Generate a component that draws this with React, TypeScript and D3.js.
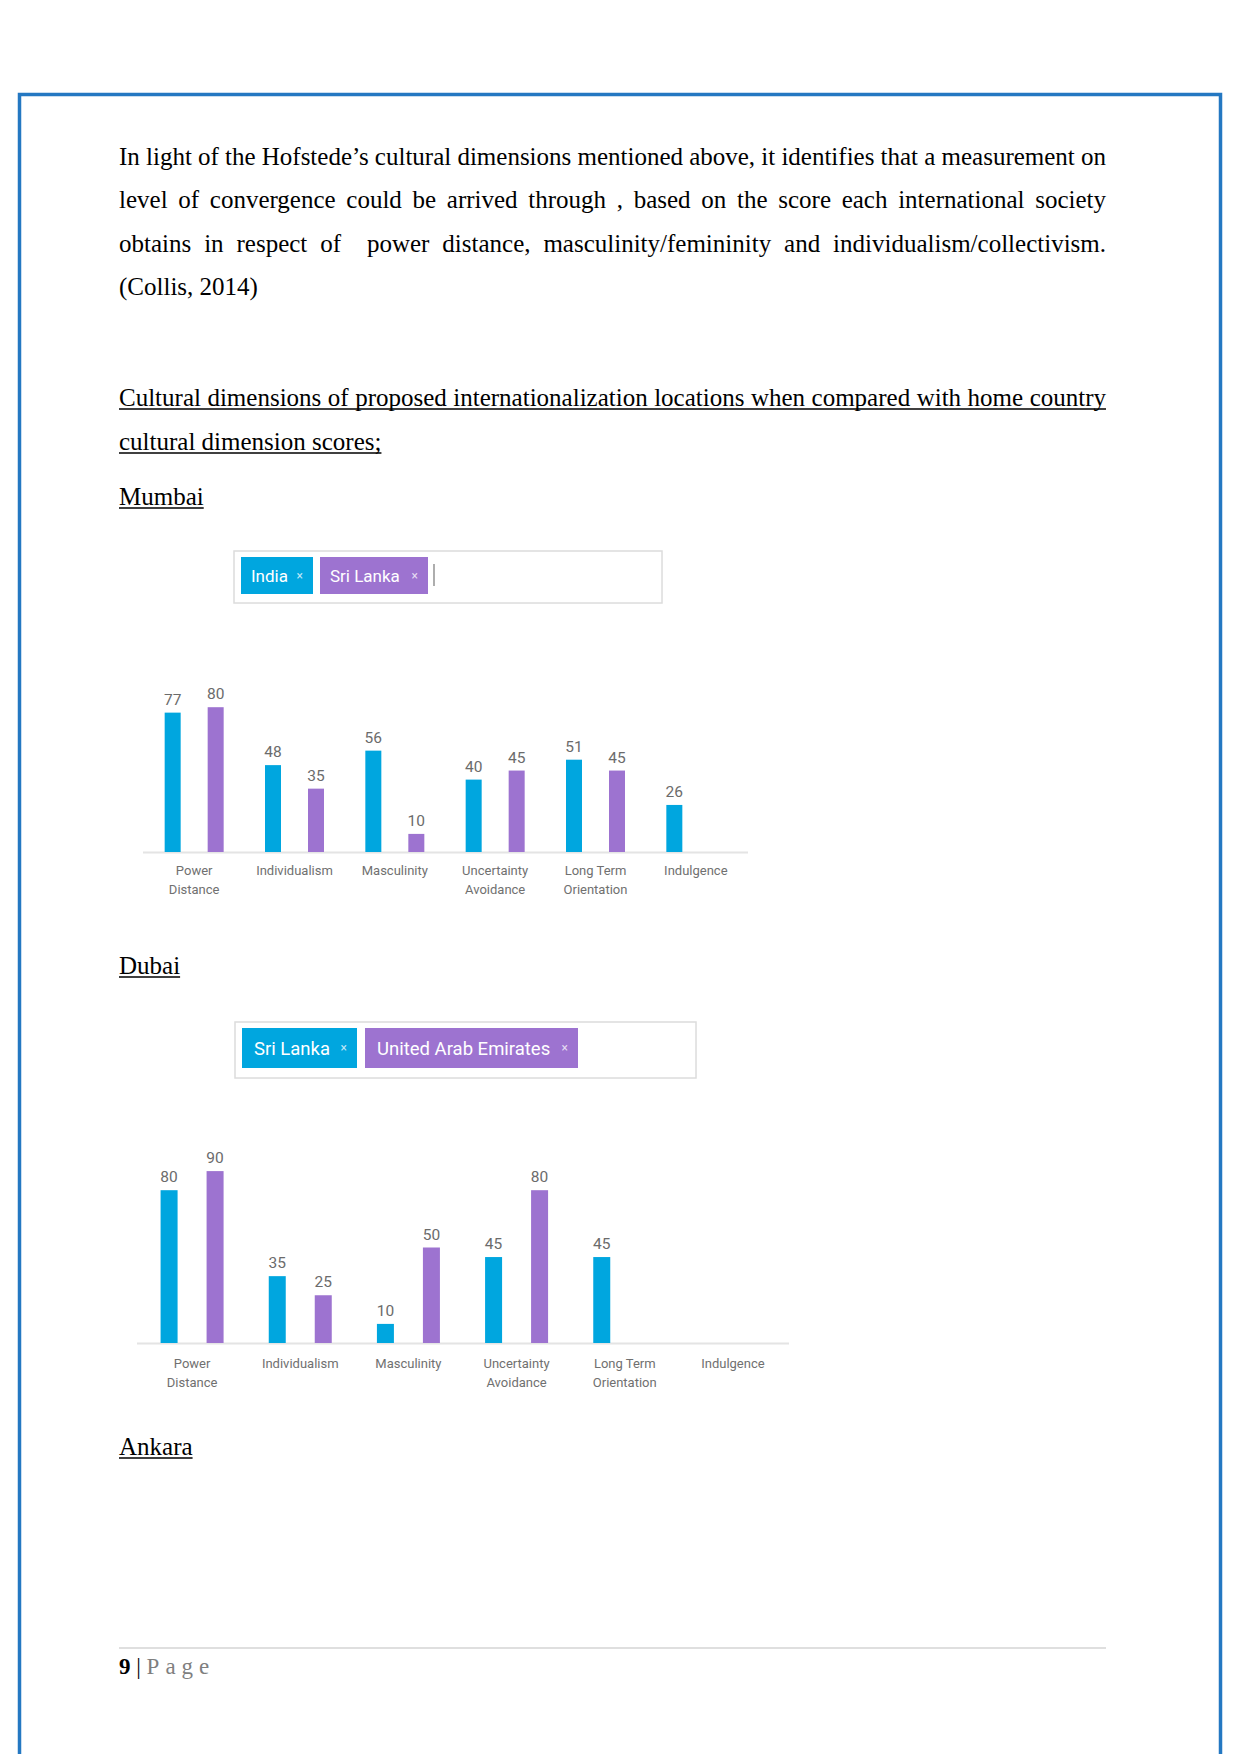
import React from "react";
import * as d3 from "d3";

const W = 1241;
const H = 1754;

const paragraphLines = [
  "In light of the Hofstede\u2019s cultural dimensions mentioned above, it identifies that a measurement on",
  "level of convergence could be arrived through , based on the score each international society",
  "obtains in respect of  power distance, masculinity/femininity and individualism/collectivism.",
  "(Collis, 2014)",
];
const headingLines = [
  "Cultural dimensions of proposed internationalization locations when compared with home country",
  "cultural dimension scores;",
];

const categories = ["Power Distance", "Individualism", "Masculinity", "Uncertainty Avoidance", "Long Term Orientation", "Indulgence"];
const categoryLines = [["Power", "Distance"], ["Individualism"], ["Masculinity"], ["Uncertainty", "Avoidance"], ["Long Term", "Orientation"], ["Indulgence"]];

const mumbaiSeries = ["India", "Sri Lanka"];
const mumbaiIndia = [77, 48, 56, 40, 51, 26];
const mumbaiSriLanka = [80, 35, 10, 45, 45, null];

const dubaiSeries = ["Sri Lanka", "United Arab Emirates"];
const dubaiSriLanka = [80, 35, 10, 45, 45, null];
const dubaiUAE = [90, 25, 50, 80, null, null];

const BLUE = "#00A6DF";
const PURPLE = "#9D73D0";
const SERIF = "'Liberation Serif', 'Times New Roman', serif";
const SANS = "Roboto, 'Liberation Sans', sans-serif";

let _ctx: CanvasRenderingContext2D | null = null;
function measure(text: string, font: string) {
  if (!_ctx) _ctx = document.createElement("canvas").getContext("2d");
  _ctx!.font = font;
  return _ctx!.measureText(text).width;
}

function JustifiedLine({ text, x, y, width, size, underline }: any) {
  const font = `${size}px 'Liberation Serif'`;
  const words = text.split(" ");
  const widths = words.map((w: string) => measure(w, font));
  const total = widths.reduce((a: number, b: number) => a + b, 0);
  const gap = (width - total) / (words.length - 1);
  let cx = x;
  const els: any[] = [];
  words.forEach((w: string, i: number) => {
    if (w.length)
      els.push(
        <text key={i} x={cx} y={y} fontFamily={SERIF} fontSize={size} fill="#000">{w}</text>
      );
    cx += widths[i] + gap;
  });
  return (
    <g>
      {els}
      {underline && <line x1={x} x2={x + width} y1={y + 3} y2={y + 3} stroke="#000" strokeWidth={1.3} />}
    </g>
  );
}

function PlainLine({ text, x, y, size, underline }: any) {
  const w = measure(text, `${size}px 'Liberation Serif'`);
  return (
    <g>
      <text x={x} y={y} fontFamily={SERIF} fontSize={size} fill="#000">{text}</text>
      {underline && <line x1={x} x2={x + w} y1={y + 3} y2={y + 3} stroke="#000" strokeWidth={1.3} />}
    </g>
  );
}

function Chips({ box, chips, cursor, fontSize, pad }: any) {
  return (
    <g>
      <rect x={box.x} y={box.y} width={box.w} height={box.h} fill="#fff" stroke="#dcdcdc" strokeWidth={1.5} />
      {chips.map((c: any, i: number) => (
        <g key={i}>
          <rect x={c.x} y={c.y} width={c.w} height={c.h} fill={c.color} />
          <text x={c.x + pad} y={c.y + c.h / 2 + fontSize * 0.36} fontFamily={SANS} fontSize={fontSize} fill="#fff">{c.label}</text>
          <text x={c.x + c.w - 10} y={c.y + c.h / 2 + 4} fontFamily={SANS} fontSize={12} fill="#fff" fillOpacity={0.75} textAnchor="end">{"\u00d7"}</text>
        </g>
      ))}
      {cursor && <line x1={cursor.x} x2={cursor.x} y1={cursor.y1} y2={cursor.y2} stroke="#777" strokeWidth={1.2} />}
    </g>
  );
}

function BarChart({ seriesNames, seriesValues, range, baseline, pxPerUnit, offset, barW, lineExtent, labelY }: any) {
  const x0 = d3.scaleBand().domain(categories).range(range).padding(0);
  const x1 = d3.scalePoint().domain(seriesNames).range([-offset, offset]);
  const y = d3.scaleLinear().domain([0, 100]).range([baseline, baseline - 100 * pxPerUnit]);
  const colors = [BLUE, PURPLE];
  return (
    <g>
      <line x1={lineExtent[0]} x2={lineExtent[1]} y1={baseline + 0.5} y2={baseline + 0.5} stroke="#e4e4e4" strokeWidth={2} />
      {categories.map((c, ci) => {
        const cx = x0(c)! + x0.bandwidth() / 2;
        return (
          <g key={c}>
            {seriesNames.map((s: string, si: number) => {
              const v = seriesValues[si][ci];
              if (v == null) return null;
              const bx = cx + x1(s)!;
              return (
                <g key={s}>
                  <rect x={bx - barW / 2} y={y(v)} width={barW} height={baseline - y(v)} fill={colors[si]} />
                  <text x={bx} y={y(v) - 8} textAnchor="middle" fontFamily={SANS} fontSize={15.5} fill="#6b6b6b">{v}</text>
                </g>
              );
            })}
            {categoryLines[ci].map((t, li) => (
              <text key={li} x={cx} y={labelY + li * 19} textAnchor="middle" fontFamily={SANS} fontSize={13} fill="#707070">{t}</text>
            ))}
          </g>
        );
      })}
    </g>
  );
}

export default function App() {
  const L = 119;
  const R = 1106;
  const size = 25;
  return (
    <svg width={W} height={H} viewBox={`0 0 ${W} ${H}`} style={{ position: "absolute", left: 0, top: 0, background: "#fff" }}>
      <rect x={0} y={0} width={W} height={H} fill="#fff" />
      {/* page border */}
      <path d={`M19.5 ${H} L19.5 94.5 L1220.5 94.5 L1220.5 ${H}`} fill="none" stroke="#2478C2" strokeWidth={3.5} />

      {paragraphLines.map((t, i) =>
        i < 3 ? (
          <JustifiedLine key={i} text={t} x={L} y={165 + i * 43.3} width={R - L} size={size} />
        ) : (
          <PlainLine key={i} text={t} x={L} y={165 + i * 43.3} size={size} />
        )
      )}

      <JustifiedLine text={headingLines[0]} x={L} y={406} width={R - L} size={size} underline />
      <PlainLine text={headingLines[1]} x={L} y={450} size={size} underline />
      <PlainLine text="Mumbai" x={L} y={505} size={size} underline />

      <Chips
        box={{ x: 234, y: 551, w: 428, h: 52 }}
        chips={[
          { x: 241, y: 557, w: 72, h: 37, color: BLUE, label: mumbaiSeries[0] },
          { x: 320, y: 557, w: 108, h: 37, color: PURPLE, label: mumbaiSeries[1] },
        ]}
        cursor={{ x: 434, y1: 564, y2: 586 }}
        fontSize={17}
        pad={10}
      />

      <BarChart
        seriesNames={mumbaiSeries}
        seriesValues={[mumbaiIndia, mumbaiSriLanka]}
        range={[144, 746]}
        baseline={852}
        pxPerUnit={1.81}
        offset={21.5}
        barW={16}
        lineExtent={[143, 748]}
        labelY={875}
      />

      <PlainLine text="Dubai" x={L} y={974} size={size} underline />

      <Chips
        box={{ x: 235, y: 1022, w: 461, h: 56 }}
        chips={[
          { x: 242, y: 1028, w: 115, h: 40, color: BLUE, label: dubaiSeries[0] },
          { x: 365, y: 1028, w: 213, h: 40, color: PURPLE, label: dubaiSeries[1] },
        ]}
        fontSize={18.5}
        pad={12}
      />

      <BarChart
        seriesNames={dubaiSeries}
        seriesValues={[dubaiSriLanka, dubaiUAE]}
        range={[138, 787]}
        baseline={1343}
        pxPerUnit={1.91}
        offset={23}
        barW={17}
        lineExtent={[137, 789]}
        labelY={1368}
      />

      <PlainLine text="Ankara" x={L} y={1455} size={size} underline />

      {/* footer */}
      <line x1={L} x2={R} y1={1648} y2={1648} stroke="#d4d4d4" strokeWidth={1.5} />
      <text x={L} y={1674} fontFamily={SERIF} fontSize={23}>
        <tspan fontWeight="bold" fill="#000">9</tspan>
        <tspan fill="#000"> | </tspan>
        <tspan fill="#7f7f7f" letterSpacing={6}>Page</tspan>
      </text>
    </svg>
  );
}
